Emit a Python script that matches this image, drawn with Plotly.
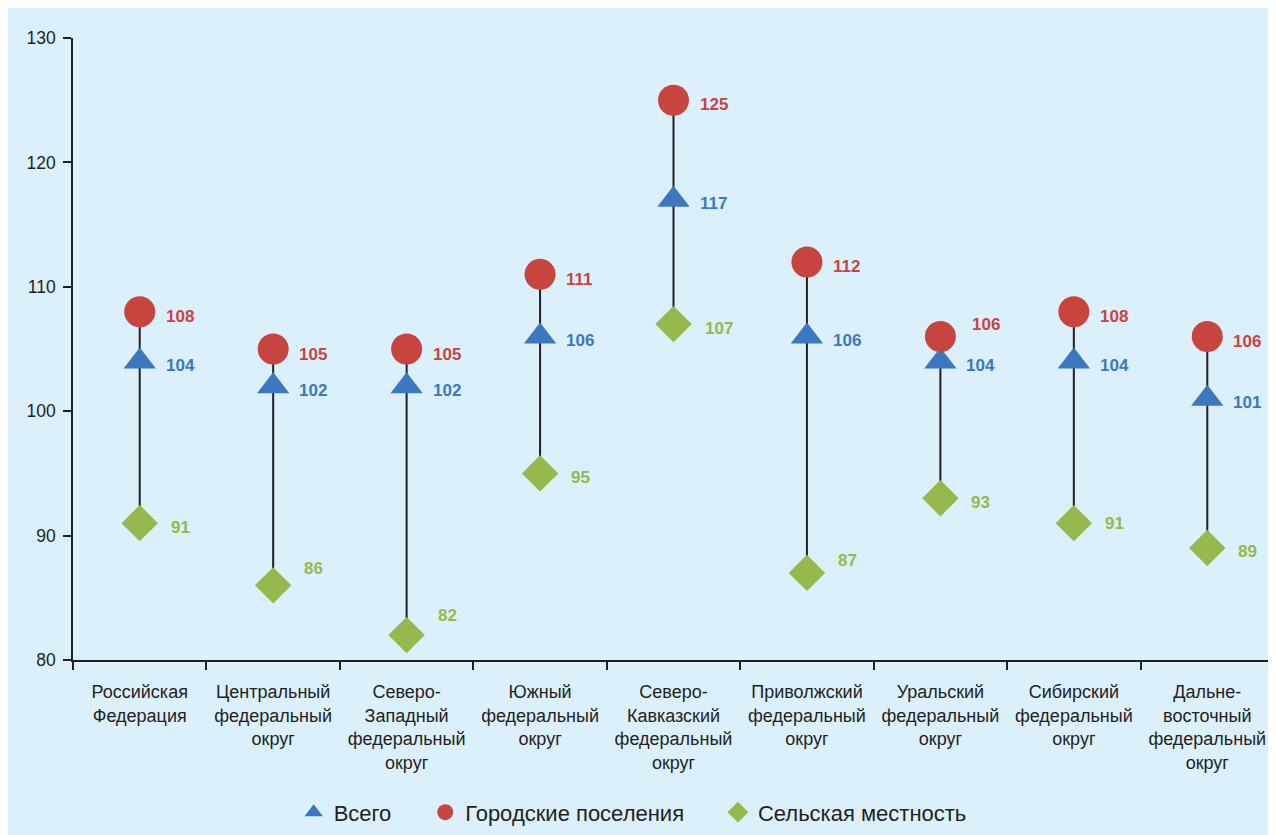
import plotly.graph_objects as go

categories = [
    "Российская<br>Федерация",
    "Центральный<br>федеральный<br>округ",
    "Северо-<br>Западный<br>федеральный<br>округ",
    "Южный<br>федеральный<br>округ",
    "Северо-<br>Кавказский<br>федеральный<br>округ",
    "Приволжский<br>федеральный<br>округ",
    "Уральский<br>федеральный<br>округ",
    "Сибирский<br>федеральный<br>округ",
    "Дальне-<br>восточный<br>федеральный<br>округ",
]
total = [104, 102, 102, 106, 117, 106, 104, 104, 101]
urban = [108, 105, 105, 111, 125, 112, 106, 108, 106]
rural = [91, 86, 82, 95, 107, 87, 93, 91, 89]
series_names = ["Всего", "Городские поселения", "Сельская местность"]

# label offsets (style only)
urban_dy = [-5, -5, -5, -5, -4, -5, 12, -5, -5]
urban_dx = [24, 24, 24, 24, 24, 24, 30, 24, 24]
total_dy = [-4] * 9
rural_dy = [-4, 17, 20, -4, -4, 12, -4, 0, -3]

RED = "#c8443f"
BLUE = "#3b78bf"
GREEN = "#97b84c"
BG = "#dbf0fb"
DARK = "#231f20"

REG = "Liberation Sans, Arial, sans-serif"
PAD = "\u00a0" * 4 + "\u2009"

fig = go.Figure()

lx, ly = [], []
for c, u, r in zip(categories, urban, rural):
    lx += [c, c, None]
    ly += [u, r, None]
fig.add_trace(go.Scatter(x=lx, y=ly, mode="lines", line=dict(color=DARK, width=2),
                         showlegend=False, hoverinfo="skip"))

fig.add_trace(go.Scatter(x=categories, y=total, mode="markers", name=series_names[0] + PAD,
                         marker=dict(symbol="triangle-up", size=28, color=BLUE)))
fig.add_trace(go.Scatter(x=categories, y=urban, mode="markers", name=series_names[1] + PAD,
                         marker=dict(symbol="circle", size=31, color=RED)))
fig.add_trace(go.Scatter(x=categories, y=rural, mode="markers", name=series_names[2],
                         marker=dict(symbol="diamond", size=28, color=GREEN)))

for i, c in enumerate(categories):
    fig.add_annotation(x=c, y=urban[i], text="<b>%d</b>" % urban[i], showarrow=False,
                       xanchor="left", xshift=urban_dx[i], yshift=urban_dy[i],
                       font=dict(family=REG, size=17, color=RED))
    fig.add_annotation(x=c, y=total[i], text="<b>%d</b>" % total[i], showarrow=False,
                       xanchor="left", xshift=24, yshift=total_dy[i],
                       font=dict(family=REG, size=17, color=BLUE))
    fig.add_annotation(x=c, y=rural[i], text="<b>%d</b>" % rural[i], showarrow=False,
                       xanchor="left", xshift=29, yshift=rural_dy[i],
                       font=dict(family=REG, size=17, color=GREEN))

# page body has an 8px white margin, which forms the white frame
W, H = 1268, 827
L, R, T, B = 65, 2, 30, 172

fig.update_layout(
    width=W, height=H,
    margin=dict(l=L, r=R, t=T, b=B),
    paper_bgcolor=BG,
    plot_bgcolor=BG,
    font=dict(family=REG, size=18, color=DARK),
    showlegend=True,
    legend=dict(orientation="h", x=0.466, xanchor="center", y=-0.245, yanchor="middle",
                font=dict(family=REG, size=22, color=DARK), bgcolor="rgba(0,0,0,0)"),
    xaxis=dict(type="category", range=[-0.5, 8.5], showline=True, linecolor=DARK, linewidth=1.5,
               ticks="outside", tickson="boundaries", ticklen=8, tickcolor=DARK, tickwidth=1.5,
               showgrid=False, zeroline=False, ticklabelstandoff=15,
               tickfont=dict(family=REG, size=18, color=DARK)),
    yaxis=dict(range=[80, 130], dtick=10, showline=True, linecolor=DARK, linewidth=1.5,
               ticks="outside", ticklen=8, tickcolor=DARK, tickwidth=1.5,
               showgrid=False, zeroline=False, ticklabelstandoff=4,
               tickfont=dict(family=REG, size=17.5, color=DARK)),
)

fig.write_html("out.html")
